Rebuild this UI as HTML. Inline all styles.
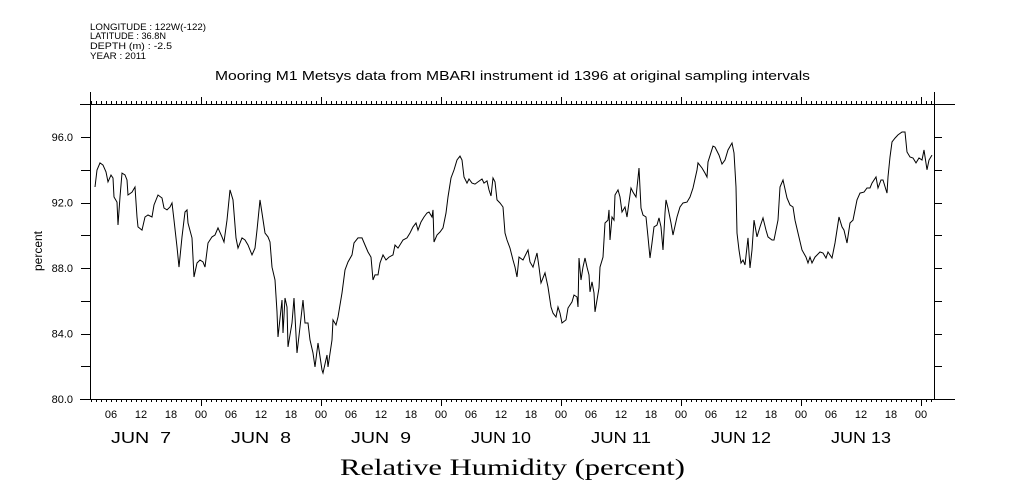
<!DOCTYPE html>
<html><head><meta charset="utf-8"><style>
body{margin:0;background:#fff;}
svg{display:block;font-family:"Liberation Sans",sans-serif;}
</style></head><body>
<svg id="chart" width="1009" height="504" viewBox="0 0 1009 504">
<g font-size="9.5" fill="#000">
<text x="90" y="30" textLength="116" lengthAdjust="spacingAndGlyphs">LONGITUDE : 122W(-122)</text>
<text x="90" y="39" textLength="76" lengthAdjust="spacingAndGlyphs">LATITUDE : 36.8N</text>
<text x="90" y="49" textLength="82" lengthAdjust="spacingAndGlyphs">DEPTH (m) : -2.5</text>
<text x="90" y="59" textLength="56" lengthAdjust="spacingAndGlyphs">YEAR : 2011</text>
</g>
<text x="215" y="80" textLength="595" lengthAdjust="spacingAndGlyphs" font-size="13">Mooring M1 Metsys data from MBARI instrument id 1396 at original sampling intervals</text>
<text transform="translate(42,251) rotate(-90)" text-anchor="middle" font-size="12">percent</text>
<text x="340" y="475" textLength="345" lengthAdjust="spacingAndGlyphs" font-size="23" font-family="Liberation Serif, serif">Relative Humidity (percent)</text>
<g id="axes"></g>
<g id="ticks"></g>
<path id="series" fill="none" stroke="#000" stroke-width="1"></path>
</svg>
<script>
const hours=[2.8,3.2,3.8,4.4,5.0,5.4,6.0,6.4,6.6,7.2,7.4,7.8,8.2,8.8,9.2,9.4,10.2,10.8,11.2,11.4,12.2,12.8,13.4,14.2,14.6,15.4,16.2,16.6,17.2,17.8,18.2,18.6,19.2,19.6,20.2,20.8,21.2,21.4,22.2,22.6,23.2,23.8,24.4,24.8,25.4,26.2,26.8,27.4,28.2,28.6,29.2,29.8,30.4,31.0,31.4,32.2,32.8,33.4,34.2,34.8,35.2,35.8,36.2,36.8,37.4,37.8,38.2,38.8,39.2,39.4,40.2,40.4,40.8,41.2,41.4,42.2,42.6,43.2,43.8,44.4,44.8,45.4,45.8,46.4,46.8,47.4,48.2,48.4,49.2,49.4,50.2,50.4,51.0,51.4,52.2,52.8,53.4,54.2,54.6,55.4,56.2,56.8,57.4,58.0,58.4,58.8,59.4,59.8,60.4,61.0,61.6,62.4,62.8,63.4,64.4,65.2,65.8,66.4,67.0,67.4,68.0,68.6,69.2,69.6,70.2,70.4,70.6,71.2,71.8,72.4,73.0,73.4,74.0,74.6,75.2,75.8,76.2,76.6,77.2,77.6,78.2,78.8,79.4,80.2,80.6,81.2,81.6,82.0,82.4,82.8,83.2,83.8,84.4,84.8,85.2,85.8,86.4,86.8,87.2,87.6,88.4,89.4,89.8,90.4,91.2,91.6,92.0,92.8,93.4,94.0,94.4,95.0,95.4,95.8,96.2,97.0,97.4,98.2,98.6,99.2,99.4,99.6,100.0,100.4,100.8,101.2,101.6,101.8,102.2,102.6,102.8,103.2,103.6,103.8,104.4,104.8,105.4,105.6,105.8,106.2,106.6,106.8,107.4,107.8,108.2,108.8,109.2,109.6,110.0,110.4,111.0,111.4,111.6,112.0,112.4,113.0,113.4,113.8,114.2,114.6,115.2,115.6,116.0,116.4,116.8,117.0,117.4,118.0,118.4,119.2,119.8,120.4,121.2,121.8,122.4,123.2,123.4,124.2,124.8,125.2,125.4,126.4,126.8,127.6,128.2,128.8,129.4,130.2,130.6,131.0,131.2,131.6,132.0,132.4,132.8,133.4,133.8,134.2,134.6,135.2,135.8,136.4,137.0,137.4,138.2,138.6,139.4,139.8,140.4,141.2,141.8,142.4,142.8,143.4,144.2,145.0,145.4,145.8,146.2,146.8,147.8,148.4,149.0,149.4,150.2,150.8,151.6,152.2,152.6,153.2,153.8,154.4,155.2,155.8,156.6,157.2,157.8,158.2,159.0,159.4,160.0,160.4,161.2,161.4,161.8,162.2,162.8,163.4,164.2,164.8,165.2,165.8,166.4,167.0,167.6,168.2,168.6,169.2,169.6,170.2];
const humidity=[92.95,93.99,94.42,94.29,93.87,93.26,93.68,93.50,92.34,92.03,90.63,92.34,93.80,93.68,93.38,92.46,92.64,92.95,91.12,90.51,90.32,91.12,91.24,91.12,91.85,92.46,92.28,91.67,91.55,91.73,91.97,90.93,89.29,88.06,89.90,91.42,91.55,90.75,89.84,87.45,88.31,88.49,88.37,88.06,89.53,89.90,90.02,90.45,89.90,89.59,90.93,92.77,92.16,89.84,89.22,89.84,89.71,89.41,88.80,89.22,90.32,92.16,91.36,90.14,89.90,89.59,88.06,87.27,85.32,83.79,86.05,84.03,86.17,85.62,83.18,84.64,86.17,82.81,84.40,86.05,84.64,84.64,83.61,82.81,81.96,83.42,81.77,81.59,82.69,81.96,83.61,84.83,84.52,85.01,86.48,87.88,88.37,88.80,89.53,89.84,89.84,89.41,88.98,88.67,87.27,87.58,87.58,88.31,88.80,88.49,88.67,88.80,89.41,89.22,89.71,89.84,90.14,90.51,90.75,90.32,90.81,91.12,91.36,91.42,91.12,91.55,89.59,90.02,90.20,90.45,91.36,92.34,93.50,93.99,94.60,94.84,94.60,93.56,93.19,93.44,93.19,93.13,93.26,93.44,93.19,93.32,92.77,92.40,93.50,93.26,92.16,91.97,91.73,90.14,89.71,89.22,88.49,88.06,87.45,88.67,88.49,89.10,88.37,88.06,88.92,88.06,87.09,87.70,86.84,85.62,85.25,85.01,85.62,85.25,84.64,84.83,85.56,85.93,86.35,86.23,85.62,88.61,87.27,88.06,88.61,88.06,87.58,86.54,87.15,86.48,85.32,86.05,86.78,88.06,88.67,90.75,90.93,91.55,89.71,91.12,90.93,92.46,92.77,92.34,91.42,91.73,91.12,92.03,92.89,92.64,92.34,93.50,94.11,91.67,91.24,91.12,89.90,88.61,89.53,90.51,90.63,91.06,90.51,89.10,91.36,92.16,91.67,90.75,90.02,91.12,91.73,91.97,92.03,92.34,92.89,93.99,94.42,94.11,93.80,93.56,94.48,95.45,95.39,94.90,94.35,94.60,95.21,95.64,95.03,92.95,90.14,89.10,88.31,88.49,88.19,89.84,88.00,89.10,90.93,89.90,90.51,91.06,90.32,89.90,89.71,89.71,90.93,92.95,93.38,92.28,91.85,91.73,90.93,90.14,89.10,88.67,88.31,88.67,88.31,88.67,88.98,88.92,88.61,88.98,88.61,89.53,91.12,90.51,90.32,89.53,90.75,90.93,92.16,92.58,92.64,92.89,92.89,93.19,93.56,92.89,93.38,93.38,92.58,93.56,94.78,95.70,95.94,96.13,96.31,96.31,95.09,94.78,94.72,94.42,94.72,94.60,95.21,94.00,94.60,94.90];
const yTickValues=[80,84,88,92,96];
const yTickLabels=["80.0","84.0","88.0","92.0","96.0"];
const hourLabels=["06","12","18","00"];
const dayLabels=["JUN  7","JUN  8","JUN  9","JUN 10","JUN 11","JUN 12","JUN 13"];

const X0=90,X1=934,Y0=399,Y1=104;
const H0=1.8,H1=170.6,V0=80,V1=98.02;
function xs(h){return X0+(h-H0)/(H1-H0)*(X1-X0);}
function ys(v){return Y0-(v-V0)/(V1-V0)*(Y0-Y1);}
const NS="http://www.w3.org/2000/svg";
const axes=document.getElementById('axes');
const ticks=document.getElementById('ticks');
function line(p,x1,y1,x2,y2){const l=document.createElementNS(NS,'line');l.setAttribute('x1',x1);l.setAttribute('y1',y1);l.setAttribute('x2',x2);l.setAttribute('y2',y2);l.setAttribute('stroke','#000');l.setAttribute('stroke-width','1');p.appendChild(l);return l;}
function text(p,x,y,s,size,anchor){const t=document.createElementNS(NS,'text');t.setAttribute('x',x);t.setAttribute('y',y);t.setAttribute('font-size',size);t.setAttribute('text-anchor',anchor);t.textContent=s;p.appendChild(t);return t;}
let a;
a=line(axes,80,Y1+0.5,955,Y1+0.5);


a=line(axes,80,Y0+0.5,955,Y0+0.5);


a=line(axes,X0+0.5,92,X0+0.5,Y0);


a=line(axes,X1+0.5,92,X1+0.5,Y0);


for(let v=80;v<=98;v+=2){
  const y=Math.round(ys(v))+0.5;
  let t=line(ticks,81,y,X0,y);
  
  
  t=line(ticks,X1,y,X1+8,y);
  
  
}
yTickValues.forEach((v,i)=>{
  const t=text(ticks,73,ys(v)+4,yTickLabels[i],11,'end');
  
  
});
for(let h=2;h<=170;h++){
  const x=Math.round(xs(h))+0.5;
  const major=(h%24===0);
  let t=line(ticks,x,Y0,x,Y0+(major?7:3));
  
  
  t=line(ticks,x,Y1,x,Y1-(major?7:3));
  
  
}
for(let h=6;h<=168;h+=6){
  const t=text(ticks,xs(h),418,hourLabels[(h/6-1)%4],11,'middle');
  
  
}
dayLabels.forEach((d,i)=>{
  const t=text(ticks,xs(12+24*i)-30,443,d,16,'start');
  t.setAttribute('textLength','60');
  t.setAttribute('lengthAdjust','spacingAndGlyphs');
  t.style.whiteSpace='pre';
  
  
});
let dstr='';
hours.forEach((h,i)=>{dstr+=(i?'L':'M')+xs(h).toFixed(1)+' '+ys(humidity[i]).toFixed(1);});
document.getElementById('series').setAttribute('d',dstr);
</script>
</body></html>
